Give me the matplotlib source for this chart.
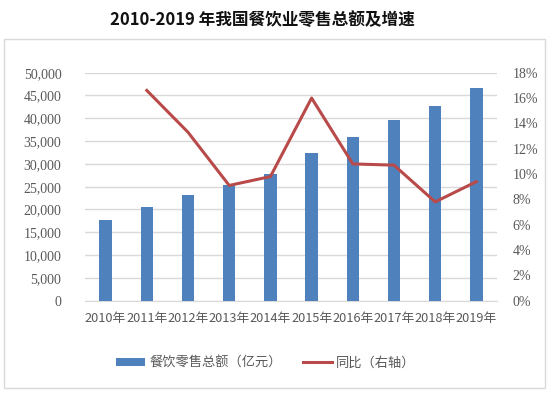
import matplotlib
matplotlib.use("Agg")
import matplotlib.pyplot as plt
from matplotlib.patches import Rectangle
from matplotlib.ticker import FuncFormatter
from matplotlib.lines import Line2D
from matplotlib.patches import Patch

plt.rcParams['font.family'] = ['Noto Sans CJK SC', 'DejaVu Sans']

years = ['2010年', '2011年', '2012年', '2013年', '2014年', '2015年', '2016年', '2017年', '2018年', '2019年']
revenue = [17648, 20635, 23283, 25392, 27860, 32310, 35799, 39644, 42716, 46721]
growth_years = years[1:]
growth = [16.6, 13.3, 9.1, 9.8, 16.0, 10.8, 10.7, 7.8, 9.4]

fig = plt.figure(figsize=(5.5, 3.96), dpi=100)
fig.patches.append(Rectangle((4/550, 1-388/396), 541/550, 349/396, transform=fig.transFigure,
                             fill=False, edgecolor='#d9d9d9', linewidth=1))

ax = fig.add_axes([85/550, 1-300.7/396, 412/550, 228/396])
x = list(range(len(years)))
ax.bar(x, revenue, width=0.3, color='#4f81bd', zorder=3)
ax.set_xlim(-0.5, 9.5)
ax.set_ylim(0, 50000)
ax.set_yticks(range(0, 50001, 5000))
ax.yaxis.set_major_formatter(FuncFormatter(lambda v, p: f"{int(v):,}"))
ax.set_xticks(x)
ax.set_xticklabels(years)
ax.grid(axis='y', color='#d9d9d9', linewidth=1, zorder=0)
for s in ['top', 'right', 'left']:
    ax.spines[s].set_visible(False)
ax.spines['bottom'].set_color('#d9d9d9')
ax.tick_params(axis='both', length=0, colors='#595959')
ax.tick_params(axis='y', pad=17)
ax.tick_params(axis='x', pad=8, labelsize=9.2)
for lbl in ax.get_yticklabels():
    lbl.set_family(['Liberation Serif', 'DejaVu Serif'])
    lbl.set_fontsize(10)

ax2 = ax.twinx()
gx = [years.index(y) for y in growth_years]
ax2.plot(gx, growth, color='#b94a4a', linewidth=2.2, zorder=4)
ax2.set_ylim(0, 18)
ax2.set_yticks(range(0, 19, 2))
ax2.yaxis.set_major_formatter(FuncFormatter(lambda v, p: f"{int(v)}%"))
for s in ['top', 'right', 'left', 'bottom']:
    ax2.spines[s].set_visible(False)
ax2.tick_params(axis='y', length=0, colors='#595959', pad=11)
for lbl in ax2.get_yticklabels():
    lbl.set_family(['Liberation Serif', 'DejaVu Serif'])
    lbl.set_fontsize(10)

fig.text(262/550, 1-20/396, '2010-2019 年我国餐饮业零售总额及增速', ha='center', va='center',
         fontsize=12, fontweight='bold', color='#111111')

handles = [Patch(facecolor='#4f81bd'), Line2D([0], [0], color='#b94a4a', linewidth=2.2)]
fig.legend(handles, ['餐饮零售总额（亿元）', '同比（右轴）'], loc='center',
           bbox_to_anchor=(266/550, 1-363/396), ncol=2, frameon=False,
           fontsize=9.5, labelcolor='#595959', handlelength=2.2, handleheight=0.5,
           columnspacing=1.6, handletextpad=0.3)

fig.savefig('out.png', dpi=100)
